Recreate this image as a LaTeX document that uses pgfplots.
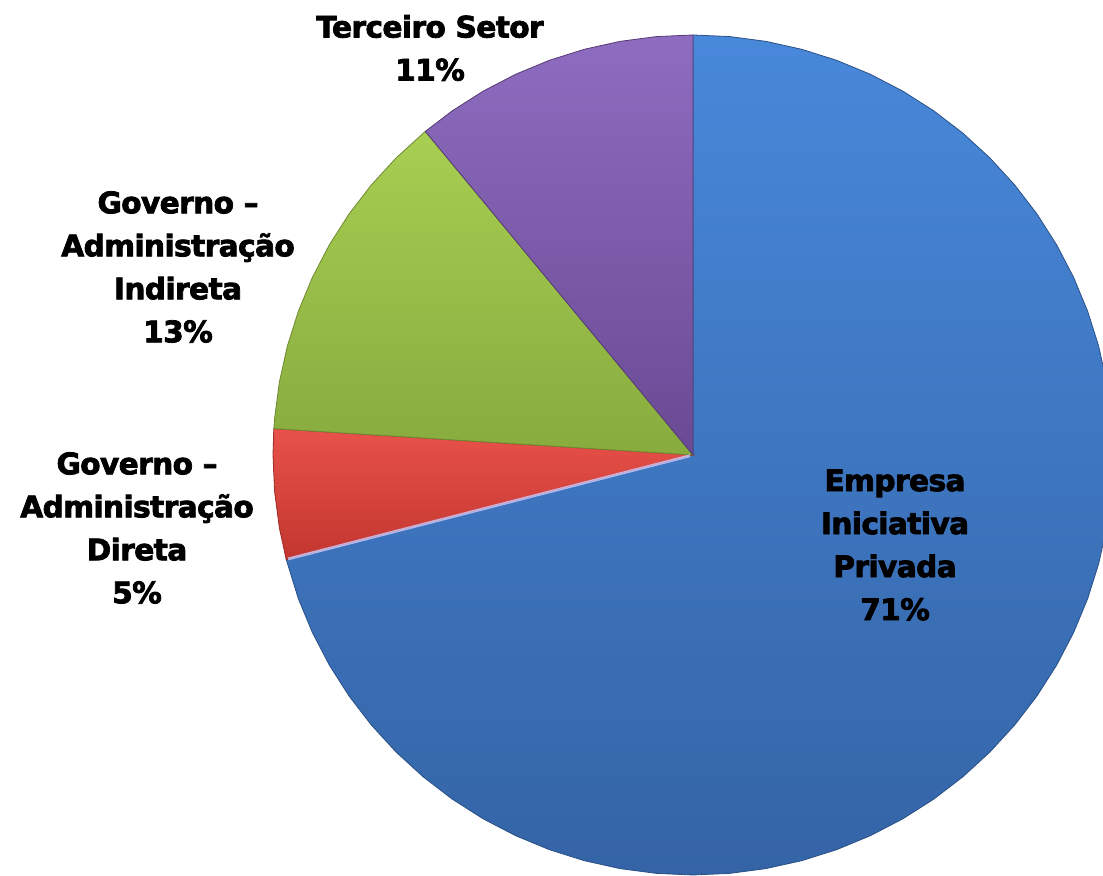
\documentclass[border=0pt]{standalone}
\usepackage{pgfplots}
\pgfplotsset{compat=1.18}
\usepackage{fontspec}
\setmainfont{DejaVu Sans}
\newfontfamily\labfont{DejaVu Sans Bold}[FakeBold=2.6, LetterSpace=-2]
\definecolor{blueT}{HTML}{4888DA}
\definecolor{blueB}{HTML}{3464A6}
\definecolor{redT}{HTML}{E8524A}
\definecolor{redB}{HTML}{C2362F}
\definecolor{greenT}{HTML}{A8CE52}
\definecolor{greenB}{HTML}{88AB3E}
\definecolor{purpT}{HTML}{8E6CC0}
\definecolor{purpB}{HTML}{6A4A94}
\begin{document}
\begin{tikzpicture}
\begin{axis}[
  width=551.5pt, height=438pt, scale only axis,
  xmin=-693, xmax=410, ymin=-421, ymax=455,
  axis lines=none, ticks=none,
  data cs=polar,
]
\path (rel axis cs:0,0) rectangle (rel axis cs:1,1);
% Empresa Iniciativa Privada 71%
\addplot[draw=blueB!80!black, line width=0.4pt, top color=blueT, bottom color=blueB] coordinates {
 (90,0) (90,420) (85,420) (80,420) (75,420) (70,420) (65,420) (60,420) (55,420) (50,420)
 (45,420) (40,420) (35,420) (30,420) (25,420) (20,420) (15,420) (10,420) (5,420) (0,420)
 (-5,420) (-10,420) (-15,420) (-20,420) (-25,420) (-30,420) (-35,420) (-40,420) (-45,420)
 (-50,420) (-55,420) (-60,420) (-65,420) (-70,420) (-75,420) (-80,420) (-85,420) (-90,420)
 (-95,420) (-100,420) (-105,420) (-110,420) (-115,420) (-120,420) (-125,420) (-130,420)
 (-135,420) (-140,420) (-145,420) (-150,420) (-155,420) (-160,420) (-165.6,420) (-165.6,0)
} -- cycle;
% Governo - Administracao Direta 5%
\addplot[draw=redB!80!black, line width=0.4pt, top color=redT, bottom color=redB] coordinates {
 (194.4,0) (194.4,420) (190,420) (185,420) (180,420) (176.4,420) (176.4,0)
} -- cycle;
% Governo - Administracao Indireta 13%
\addplot[draw=greenB!80!black, line width=0.4pt, top color=greenT, bottom color=greenB] coordinates {
 (176.4,0) (176.4,420) (175,420) (170,420) (165,420) (160,420) (155,420) (150,420)
 (145,420) (140,420) (135,420) (129.6,420) (129.6,0)
} -- cycle;
% Terceiro Setor 11%
\addplot[draw=purpB!80!black, line width=0.4pt, top color=purpT, bottom color=purpB] coordinates {
 (129.6,0) (129.6,420) (125,420) (120,420) (115,420) (110,420) (105,420) (100,420)
 (95,420) (90,420) (90,0)
} -- cycle;
% light edge between blue and red
\addplot[draw=blue!20!white, line width=1.4pt, opacity=0.8] coordinates {(-165.6,3) (-165.6,418)};
\begin{scope}[every node/.style={align=center, font=\fontsize{14.8}{21.5}\selectfont\labfont, text=black}]
\node at (axis cs:-263,407) {Terceiro Setor\\11\%};
\node at (axis cs:-515,188) {Governo –\\Administração\\Indireta\\13\%};
\node at (axis cs:-556,-73) {Governo –\\Administração\\Direta\\5\%};
\node at (axis cs:202,-90) {Empresa\\Iniciativa\\Privada\\71\%};
\end{scope}
\end{axis}
\end{tikzpicture}
\end{document}
